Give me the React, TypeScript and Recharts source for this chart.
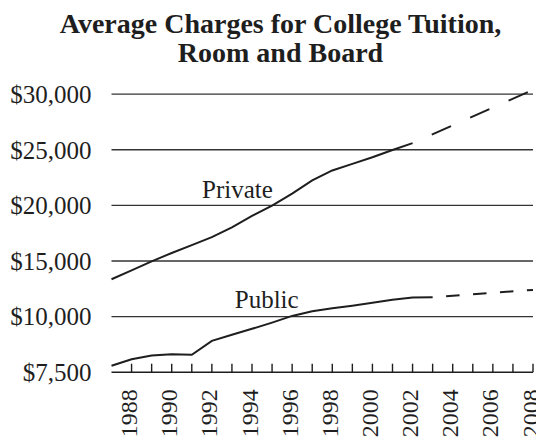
import { LineChart, Line, XAxis, YAxis, ReferenceLine } from 'recharts'

const years = [1987, 1988, 1989, 1990, 1991, 1992, 1993, 1994, 1995, 1996, 1997,
  1998, 1999, 2000, 2001, 2002, 2003, 2004, 2005, 2006, 2007, 2008]

// actual charges, from 1987
const privateActual = [13360, 14150, 14960, 15720, 16420, 17140, 18030, 19060, 19980,
  21050, 22240, 23140, 23730, 24330, 24980, 25600]
const publicActual = [7790, 8080, 8250, 8310, 8280, 8910, 9180, 9450, 9730, 10060,
  10480, 10760, 10980, 11240, 11510, 11720, 11740]

// projections (dashed)
const privateProjYears = [2002, 2008]
const privateProjected = [25600, 30390]
const publicProjYears = [2003, 2008]
const publicProjected = [11740, 12400]

const tickYears = [1988, 1989, 1990, 1991, 1992, 1993, 1994, 1995, 1996, 1997, 1998,
  1999, 2000, 2001, 2002, 2003, 2004, 2005, 2006, 2007, 2008]
const labelYears = [1988, 1990, 1992, 1994, 1996, 1998, 2000, 2002, 2004, 2006, 2008]

// axis is broken below $10,000: the $7,500-$10,000 band is drawn as tall as a $5,000 band
const yTicks = [7500, 10000, 15000, 20000, 25000, 30000]
const toPlot = (v: number) => (v >= 10000 ? v : 10000 - (10000 - v) * 2)
const fromPlot = (v: number) => (v >= 10000 ? v : 10000 - (10000 - v) / 2)

const FONT = '"Liberation Serif", "Times New Roman", serif'
const INK = '#1e1e1e'

const pick = (ys: number[], vals: number[], y: number) => {
  const i = ys.indexOf(y)
  return i >= 0 ? vals[i] : null
}

const data = years.map((year, i) => ({
  year,
  privateActual: privateActual[i] ?? null,
  publicActual: publicActual[i] ?? null,
  privateProjected: pick(privateProjYears, privateProjected, year),
  publicProjected: pick(publicProjYears, publicProjected, year),
}))

const money = (v: number) => '$' + Math.round(fromPlot(v)).toLocaleString('en-US')

function YearTick({ x, y, payload }: any) {
  const yr = payload.value as number
  return (
    <g>
      <line x1={x} y1={y} x2={x} y2={y - 8.5} stroke={INK} strokeWidth={1.4} />
      {labelYears.includes(yr) && (
        <g transform={`translate(${x + 5.5},${y + 17}) rotate(-90)`}>
          <text x={0} y={0} textAnchor="end" fontFamily={FONT} fontSize={24} fill={INK}>
            {yr}
          </text>
        </g>
      )}
    </g>
  )
}

const val = (key: string, broken = false) => (d: any) =>
  d[key] == null ? null : broken ? toPlot(d[key]) : d[key]

export default function App() {
  return (
    <div style={{ position: 'relative', width: 536, height: 432 }}>
      <LineChart
        width={536}
        height={432}
        data={data}
        margin={{ top: 80.6, right: 11, left: 0, bottom: 0 }}
      >
        <XAxis
          dataKey="year"
          type="number"
          domain={[1987, 2008]}
          ticks={tickYears}
          interval={0}
          height={67.8}
          axisLine={{ stroke: INK, strokeWidth: 1.6 }}
          tickLine={false}
          tickSize={0}
          tickMargin={0}
          tick={<YearTick />}
        />
        <YAxis
          type="number"
          domain={[5000, 30500]}
          ticks={yTicks.map(toPlot)}
          interval={0}
          width={103.5}
          axisLine={false}
          tickLine={false}
          tickSize={0}
          tickMargin={20}
          tickFormatter={money}
          tick={{ fill: INK, fontSize: 25, fontFamily: FONT }}
        />
        {yTicks.slice(1).map((t) => (
          <ReferenceLine key={t} y={toPlot(t)} stroke={INK} strokeWidth={1.4} strokeOpacity={0.9} />
        ))}
        <Line type="linear" dataKey={val('privateActual')} stroke={INK} strokeWidth={2}
          dot={false} isAnimationActive={false} />
        <Line type="linear" dataKey={val('privateProjected')} stroke={INK} strokeWidth={2}
          strokeDasharray="0 21 21 0" connectNulls dot={false} isAnimationActive={false} />
        <Line type="linear" dataKey={val('publicActual', true)} stroke={INK} strokeWidth={2}
          dot={false} isAnimationActive={false} />
        <Line type="linear" dataKey={val('publicProjected', true)} stroke={INK} strokeWidth={2}
          strokeDasharray="0 13.5 13.5 0" connectNulls dot={false} isAnimationActive={false} />
      </LineChart>

      <svg width={536} height={432}
        style={{ position: 'absolute', left: 0, top: 0, pointerEvents: 'none' }}>
        <g fontFamily={FONT} fill={INK} textAnchor="middle">
          <text x={272.5} y={25} fontSize={28} fontWeight="bold">
            Average Charges for College Tuition,
          </text>
          <text x={272.5} y={53.5} fontSize={28} fontWeight="bold">
            Room and Board
          </text>
          <text x={229.5} y={190.3} fontSize={25}>Private</text>
          <text x={258.7} y={300.3} fontSize={25}>Public</text>
        </g>
      </svg>
    </div>
  )
}
